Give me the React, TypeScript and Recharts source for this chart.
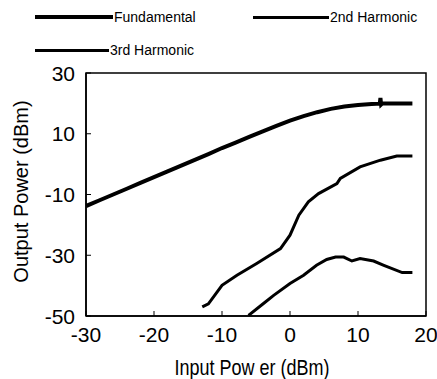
import {
  LineChart,
  Line,
  XAxis,
  YAxis,
  ReferenceArea,
} from "recharts";

type Pt = { x: number; y: number };

const fundamental: Pt[] = [
  { x: -30, y: -13.8 }, { x: -28, y: -11.9 }, { x: -26, y: -10 },
  { x: -24, y: -8.1 }, { x: -22, y: -6.2 }, { x: -20, y: -4.3 },
  { x: -18, y: -2.4 }, { x: -16, y: -0.5 }, { x: -14, y: 1.4 },
  { x: -12, y: 3.3 }, { x: -10, y: 5.3 }, { x: -8, y: 7.1 },
  { x: -6, y: 9.0 }, { x: -4, y: 10.8 }, { x: -2, y: 12.6 },
  { x: 0, y: 14.3 }, { x: 2, y: 15.8 }, { x: 4, y: 17.1 },
  { x: 6, y: 18.2 }, { x: 8, y: 19.0 }, { x: 10, y: 19.5 },
  { x: 12, y: 19.8 }, { x: 13.2, y: 19.9 }, { x: 13.3, y: 21.8 },
  { x: 13.4, y: 19.6 }, { x: 13.6, y: 20 }, { x: 16, y: 20 }, { x: 18, y: 20 },
];

const harmonic2: Pt[] = [
  { x: -12.9, y: -47 }, { x: -12, y: -46 }, { x: -10, y: -39.9 },
  { x: -7.8, y: -36.6 }, { x: -4.9, y: -32.7 }, { x: -1.4, y: -27.8 },
  { x: 0, y: -23.4 }, { x: 1.3, y: -16.8 }, { x: 2.7, y: -12.4 },
  { x: 4.2, y: -9.7 }, { x: 6.9, y: -6.4 }, { x: 7.4, y: -4.7 },
  { x: 10.3, y: -0.9 }, { x: 13.3, y: 1.3 }, { x: 15.7, y: 2.7 }, { x: 18, y: 2.7 },
];

const harmonic3: Pt[] = [
  { x: -6.1, y: -49.8 }, { x: -3.9, y: -45.9 }, { x: -2.4, y: -43.2 },
  { x: 0, y: -39.3 }, { x: 2, y: -36.6 }, { x: 3.9, y: -33.3 },
  { x: 5.4, y: -31.4 }, { x: 6.7, y: -30.6 }, { x: 7.9, y: -30.6 },
  { x: 9.1, y: -31.9 }, { x: 10.3, y: -31.1 }, { x: 12.3, y: -31.9 },
  { x: 13.8, y: -33.3 }, { x: 16.5, y: -35.7 }, { x: 18, y: -35.7 },
];

const xTicks = [-30, -20, -10, 0, 10, 20];
const yTicks = [-50, -30, -10, 10, 30];

const font = "Arial, 'Liberation Sans', sans-serif";

const YTick = ({ x, y, payload }: any) => (
  <g>
    <line x1={x} x2={x + 5} y1={y} y2={y} stroke="#000" />
    <text x={x - 11} y={y + 7.5} textAnchor="end"
      fontSize={21} fontFamily={font} fill="#000">
      {payload.value}
    </text>
  </g>
);

const XTick = ({ x, y, payload }: any) => (
  <g>
    <line x1={x} x2={x} y1={y} y2={y - 5} stroke="#000" />
    <text x={x} y={y + 26} textAnchor="middle"
      fontSize={21} fontFamily={font} fill="#000">
      {payload.value}
    </text>
  </g>
);

const XTitle = () => (
  <text transform="translate(252,375) scale(1,1.2)" textAnchor="middle"
    fontSize={18} fontFamily={font} fill="#000">
    Input Pow er (dBm)
  </text>
);

const YTitle = () => (
  <text transform="translate(28,191.5) rotate(-90)" textAnchor="middle"
    fontSize={20} fontFamily={font} fill="#000">
    Output Power (dBm)
  </text>
);

const legendItems = [
  { name: "Fundamental", left: 35, top: 17, len: 78, w: 4 },
  { name: "2nd Harmonic", left: 253, top: 17, len: 76, w: 3 },
  { name: "3rd Harmonic", left: 35, top: 50, len: 74, w: 3 },
];

export default function App() {
  return (
    <div style={{ position: "absolute", left: 0, top: 0, width: 437, height: 379, background: "#fff" }}>
      <LineChart width={437} height={379} margin={{ top: 73, right: 11, left: 0, bottom: 0 }}>
        <XAxis type="number" dataKey="x" domain={[-30, 20]} ticks={xTicks}
          allowDataOverflow height={63} tickLine={false} tickSize={0} tickMargin={0}
          axisLine={{ stroke: "#000", strokeWidth: 1.5 }} tick={<XTick />}
          label={{ content: () => <XTitle /> }} />
        <YAxis type="number" domain={[-50, 30]} ticks={yTicks} allowDataOverflow
          width={86} tickLine={false} tickSize={0} tickMargin={0}
          axisLine={{ stroke: "#000", strokeWidth: 1.5 }} tick={<YTick />}
          label={{ content: () => <YTitle /> }} />
        <ReferenceArea x1={-30} x2={20} y1={-50} y2={30} fill="none" stroke="#000" strokeWidth={1.5} />
        <Line data={fundamental} dataKey="y" name="Fundamental" stroke="#000" strokeWidth={4}
          dot={false} isAnimationActive={false} />
        <Line data={harmonic2} dataKey="y" name="2nd Harmonic" stroke="#000" strokeWidth={3}
          dot={false} isAnimationActive={false} />
        <Line data={harmonic3} dataKey="y" name="3rd Harmonic" stroke="#000" strokeWidth={3}
          dot={false} isAnimationActive={false} />
      </LineChart>
      <div style={{ position: "absolute", left: 0, top: 0, width: 437, height: 70, fontFamily: font }}>
        {legendItems.map((it) => (
          <div key={it.name}
            style={{ position: "absolute", left: it.left, top: it.top - 9, height: 18, display: "flex", alignItems: "center" }}>
            <div style={{ width: it.len, height: it.w, background: "#000" }} />
            <span style={{ fontSize: 14, marginLeft: 1, color: "#000" }}>{it.name}</span>
          </div>
        ))}
      </div>
    </div>
  );
}
